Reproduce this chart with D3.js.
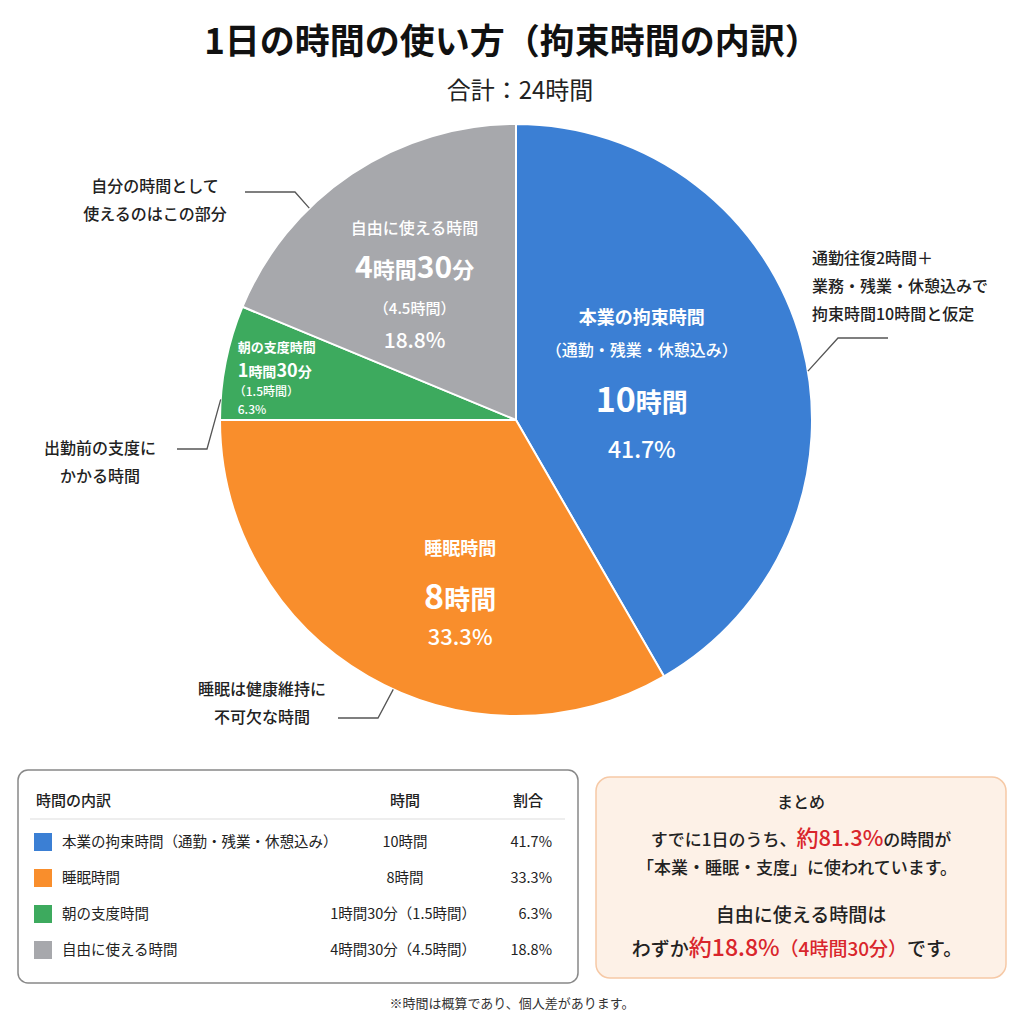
<!DOCTYPE html>
<html>
<head>
<meta charset="utf-8">
<script src="https://cdn.jsdelivr.net/npm/d3@7"></script>
<style>
  body { margin: 0; background: #fff; }
  svg { display: block; font-family: "Noto Sans CJK JP", "Noto Sans", sans-serif; }
</style>
</head>
<body>
<div id="chart"></div>
<script>
// data
const categories = ["本業の拘束時間", "睡眠時間", "朝の支度時間", "自由に使える時間"];
const tableLabels = ["本業の拘束時間（通勤・残業・休憩込み）", "睡眠時間", "朝の支度時間", "自由に使える時間"];
const hours = [10, 8, 1.5, 4.5];
const timeLabels = ["10時間", "8時間", "1時間30分（1.5時間）", "4時間30分（4.5時間）"];
const colors = ["#3b7fd4", "#f98e2c", "#3daa5e", "#a7a8ac"];
const notes = [
    ["通勤往復2時間＋", "業務・残業・休憩込みで", "拘束時間10時間と仮定"],
    ["睡眠は健康維持に", "不可欠な時間"],
    ["出勤前の支度に", "かかる時間"],
    ["自分の時間として", "使えるのはこの部分"]
];

const W = 1024, H = 1024;
const cx = 516, cy = 420, R = 296;
const total = d3.sum(hours);
const pct = d3.format(".1f");

const svg = d3.select("#chart")
    .append("svg")
    .attr("width", W)
    .attr("height", H);

// title
svg.append("text")
    .attr("x", W / 2).attr("y", 54)
    .attr("text-anchor", "middle")
    .style("font-size", "35px").style("font-weight", "700")
    .attr("fill", "#111")
    .text("1日の時間の使い方（拘束時間の内訳）");

svg.append("text")
    .attr("x", 520).attr("y", 99)
    .attr("text-anchor", "middle")
    .style("font-size", "24px")
    .attr("fill", "#222")
    .text("合計：" + total + "時間");

// pie
const pie = d3.pie().sort(null).value(d => d);
const arcs = pie(hours);
const arc = d3.arc().innerRadius(0).outerRadius(R);

const g = svg.append("g").attr("transform", `translate(${cx},${cy})`);

g.selectAll("path")
    .data(arcs)
    .join("path")
    .attr("d", arc)
    .attr("fill", (d, i) => colors[i])
    .attr("stroke", "#fff")
    .attr("stroke-width", 2);

// slice labels: radius factor, shifts, anchor
const labelPos = [
    { k: 0.44, dx: 0, dy: 0, anchor: "middle" },
    { k: 0.58, dx: 30, dy: 28, anchor: "middle" },
    { k: 0.80, dx: -46, dy: 0, anchor: "start" },
    { k: 0.58, dx: -6, dy: 13, anchor: "middle" }
];

const labelLines = [
    [
        { t: categories[0], s: 18, w: 700, dy: -62 },
        { t: "（通勤・残業・休憩込み）", s: 16, w: 500, dy: -30 },
        { t: "10", t2: "時間", s: 34, s2: 26, w: 700, dy: 26 },
        { t: pct(hours[0] / total * 100) + "%", s: 23, w: 500, dy: 72 }
    ],
    [
        { t: categories[1], s: 18, w: 700, dy: -42 },
        { t: "8", t2: "時間", s: 34, s2: 26, w: 700, dy: 12 },
        { t: pct(hours[1] / total * 100) + "%", s: 22, w: 500, dy: 48 }
    ],
    [
        { t: categories[2], s: 13, w: 700, dy: -22 },
        { t: "1", t2: "時間", t3: "30", t4: "分", s: 18, s2: 14, w: 700, dy: 3 },
        { t: "（1.5時間）", s: 12, w: 500, dy: 22.5, ox: -4 },
        { t: pct(hours[2] / total * 100) + "%", s: 12, w: 500, dy: 40 }
    ],
    [
        { t: categories[3], s: 16, w: 500, dy: -56 },
        { t: "4", t2: "時間", t3: "30", t4: "分", s: 30, s2: 22, w: 700, dy: -12 },
        { t: "（4.5時間）", s: 15, w: 500, dy: 24 },
        { t: pct(hours[3] / total * 100) + "%", s: 21, w: 500, dy: 58 }
    ]
];

arcs.forEach(function (a, i) {
    const p = labelPos[i];
    const c = d3.arc().innerRadius(0).outerRadius(R * p.k * 2).centroid(a);
    const lx = cx + c[0] + p.dx, ly = cy + c[1] + p.dy;
    labelLines[i].forEach(function (ln) {
        const t = svg.append("text")
            .attr("x", lx + (ln.ox || 0)).attr("y", ly + ln.dy)
            .attr("text-anchor", p.anchor)
            .attr("fill", "#fff")
            .style("font-weight", ln.w);
        t.append("tspan").style("font-size", ln.s + "px").text(ln.t);
        if (ln.t2) t.append("tspan").style("font-size", ln.s2 + "px").text(ln.t2);
        if (ln.t3) t.append("tspan").style("font-size", ln.s + "px").text(ln.t3);
        if (ln.t4) t.append("tspan").style("font-size", ln.s2 + "px").text(ln.t4);
    });
});

// callouts: edge angle (deg), elbow, line end, text position
const callouts = [
    { ang: 80.5, elbow: [838, 338], end: [888, 338], tx: 812, ty: 264, anchor: "start" },
    { ang: 204.5, elbow: [378, 718], end: [338, 718], tx: 262, ty: 695, anchor: "middle" },
    { ang: 274, elbow: [207, 449], end: [177, 449], tx: 100, ty: 454, anchor: "middle" },
    { ang: 315.7, elbow: [295, 192], end: [245, 192], tx: 155, ty: 192, anchor: "middle" }
];

callouts.forEach(function (c, i) {
    const rad = c.ang * Math.PI / 180;
    const px = cx + R * Math.sin(rad), py = cy - R * Math.cos(rad);
    svg.append("polyline")
        .attr("points", [[px, py], c.elbow, c.end].map(p => p.join(",")).join(" "))
        .attr("fill", "none")
        .attr("stroke", "#555")
        .attr("stroke-width", 1.3);
    notes[i].forEach(function (t, j) {
        svg.append("text")
            .attr("x", c.tx).attr("y", c.ty + j * 28)
            .attr("text-anchor", c.anchor)
            .style("font-size", "16px").style("font-weight", "500")
            .attr("fill", "#222")
            .text(t);
    });
});

// breakdown table
const tb = svg.append("g");
tb.append("rect")
    .attr("x", 18).attr("y", 770).attr("width", 560).attr("height", 213)
    .attr("rx", 10)
    .attr("fill", "#fff").attr("stroke", "#888").attr("stroke-width", 1.5);

tb.append("text").attr("x", 36).attr("y", 806)
    .style("font-size", "15px").style("font-weight", "500").attr("fill", "#222").text("時間の内訳");
tb.append("text").attr("x", 405).attr("y", 806).attr("text-anchor", "middle")
    .style("font-size", "15px").style("font-weight", "500").attr("fill", "#222").text("時間");
tb.append("text").attr("x", 528).attr("y", 806).attr("text-anchor", "middle")
    .style("font-size", "15px").style("font-weight", "500").attr("fill", "#222").text("割合");
tb.append("line")
    .attr("x1", 30).attr("x2", 565).attr("y1", 819).attr("y2", 819)
    .attr("stroke", "#ddd").attr("stroke-width", 1);

const rowY = d3.scaleBand().domain(d3.range(hours.length)).range([824, 968]);

const rows = tb.selectAll(".row")
    .data(hours)
    .join("g")
    .attr("class", "row")
    .attr("transform", (d, i) => `translate(0,${rowY(i) + rowY.bandwidth() / 2})`);

rows.append("rect")
    .attr("x", 34).attr("y", -9).attr("width", 18).attr("height", 18)
    .attr("fill", (d, i) => colors[i]);

rows.append("text")
    .attr("x", 62).attr("y", 5)
    .style("font-size", "14.5px").attr("fill", "#222")
    .text((d, i) => tableLabels[i]);

rows.append("text")
    .attr("y", 5)
    .style("font-size", "14.5px").attr("fill", "#222")
    .text((d, i) => timeLabels[i])
    .each(function () {
        const w = this.getComputedTextLength();
        d3.select(this).attr("x", Math.min(405 - w / 2, 476 - w));
    });

rows.append("text")
    .attr("x", 552).attr("y", 5).attr("text-anchor", "end")
    .style("font-size", "14.5px").attr("fill", "#222")
    .text(d => pct(d / total * 100) + "%");

// summary box
const bound = pct((hours[0] + hours[1] + hours[2]) / total * 100);
const free = pct(hours[3] / total * 100);
const sb = svg.append("g");
sb.append("rect")
    .attr("x", 596).attr("y", 777).attr("width", 410).attr("height", 201)
    .attr("rx", 14)
    .attr("fill", "#fdf1e7").attr("stroke", "#f6c9a6").attr("stroke-width", 1.5);

const sx = 801;
sb.append("text").attr("x", sx).attr("y", 808).attr("text-anchor", "middle")
    .style("font-size", "16px").style("font-weight", "500").attr("fill", "#222").text("まとめ");

const s1 = sb.append("text").attr("x", sx).attr("y", 846).attr("text-anchor", "middle")
    .style("font-size", "17px").style("font-weight", "500").attr("fill", "#222");
s1.append("tspan").text("すでに1日のうち、");
s1.append("tspan").attr("fill", "#d9262c").style("font-size", "22px").text("約" + bound + "%");
s1.append("tspan").text("の時間が");

sb.append("text").attr("x", sx - 4).attr("y", 874).attr("text-anchor", "middle")
    .style("font-size", "17px").style("font-weight", "500").attr("fill", "#222")
    .text("「本業・睡眠・支度」に使われています。");

sb.append("text").attr("x", sx).attr("y", 922).attr("text-anchor", "middle")
    .style("font-size", "19px").style("font-weight", "500").attr("fill", "#222")
    .text("自由に使える時間は");

const s4 = sb.append("text").attr("x", sx - 4).attr("y", 956).attr("text-anchor", "middle")
    .style("font-size", "19px").style("font-weight", "500").attr("fill", "#222");
s4.append("tspan").text("わずか");
s4.append("tspan").attr("fill", "#d9262c").style("font-size", "23px").text("約" + free + "%");
s4.append("tspan").attr("fill", "#d9262c").text("（" + timeLabels[3].split("（")[0] + "）");
s4.append("tspan").text("です。");

// footnote
svg.append("text")
    .attr("x", W / 2).attr("y", 1008)
    .attr("text-anchor", "middle")
    .style("font-size", "13px").attr("fill", "#333")
    .text("※時間は概算であり、個人差があります。");
</script>
</body>
</html>
